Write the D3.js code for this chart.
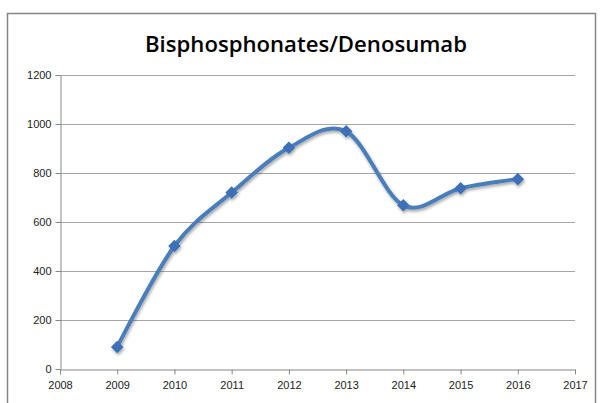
<!DOCTYPE html>
<html>
<head>
<meta charset="utf-8">
<script src="https://cdn.jsdelivr.net/npm/d3@7"></script>
<style>
  html, body { margin: 0; padding: 0; background: #fff; }
  svg text { font-family: "Liberation Sans", Arial, sans-serif; }
</style>
</head>
<body>
<svg id="chart" width="602" height="403"></svg>
<script>
const years = [2009, 2010, 2011, 2012, 2013, 2014, 2015, 2016];
const counts = [90, 502, 720, 903, 970, 668, 738, 775];
const xTicks = [2008, 2009, 2010, 2011, 2012, 2013, 2014, 2015, 2016, 2017];
const yTicks = [0, 200, 400, 600, 800, 1000, 1200];
const title = "Bisphosphonates/Denosumab";

const svg = d3.select("#chart"),
    margin = { top: 75, right: 27, bottom: 34, left: 60 },
    width = svg.attr("width") - margin.left - margin.right,
    height = svg.attr("height") - margin.top - margin.bottom;

// outer chart frame
svg.append("rect")
    .attr("x", 7.5)
    .attr("y", 13.5)
    .attr("width", 588)
    .attr("height", 400)
    .attr("fill", "#fff")
    .attr("stroke", "#868686")
    .attr("stroke-width", 1.5);

const defs = svg.append("defs");
const shadow = defs.append("filter").attr("id", "shadow")
    .attr("x", "-20%").attr("y", "-20%").attr("width", "140%").attr("height", "140%");
shadow.append("feDropShadow")
    .attr("dx", 1).attr("dy", 2).attr("stdDeviation", 1.5)
    .attr("flood-color", "#000").attr("flood-opacity", 0.35);

svg.append("text")
    .attr("x", 306)
    .attr("y", 52)
    .attr("text-anchor", "middle")
    .style("font-size", "21px")
    .style("font-weight", "600")
    .style("font-family", "'Open Sans', sans-serif")
    .attr("textLength", 322)
    .attr("lengthAdjust", "spacingAndGlyphs")
    .attr("fill", "#000")
    .text(title);

const g = svg.append("g")
    .attr("transform", "translate(" + margin.left + "," + margin.top + ")");

const x = d3.scaleLinear().domain([2008, 2017]).range([0, width]),
    y = d3.scaleLinear().domain([0, 1200]).range([height, 0]);

// gridlines
g.append("g")
    .selectAll("line")
    .data(yTicks.filter(d => d > 0))
    .enter()
    .append("line")
    .attr("x1", 0)
    .attr("x2", width)
    .attr("y1", d => Math.round(y(d)) + 0.5)
    .attr("y2", d => Math.round(y(d)) + 0.5)
    .attr("stroke", "#a6a6a6")
    .attr("stroke-width", 1);

const xAxis = g.append("g")
    .attr("transform", `translate(0, ${Math.round(height) + 0.5})`)
    .call(d3.axisBottom(x).tickValues(xTicks).tickFormat(d3.format("d")).tickSize(5).tickSizeOuter(0));
const yAxis = g.append("g")
    .attr("transform", "translate(0.5, 0)")
    .call(d3.axisLeft(y).tickValues(yTicks).tickFormat(d3.format("d")).tickSize(5).tickSizeOuter(0));

[xAxis, yAxis].forEach(a => {
    a.select(".domain").attr("stroke", "#868686");
    a.selectAll(".tick line").attr("stroke", "#868686");
    a.selectAll(".tick text")
        .attr("fill", "#222")
        .style("font-size", "11px")
        .style("font-family", "'Liberation Sans', Arial, sans-serif");
});
xAxis.selectAll(".tick text").attr("dy", "1.0em");
yAxis.selectAll(".tick text").attr("x", -9);

const points = years.map((d, i) => ({ x: d, y: counts[i] }));

const line = d3.line()
    .x(d => x(d.x))
    .y(d => y(d.y))
    .curve(d3.curveCardinal.tension(0));

const series = g.append("g").attr("filter", "url(#shadow)");

series.append("path")
    .datum(points)
    .attr("d", line)
    .attr("fill", "none")
    .attr("stroke", "#4a7ebb")
    .attr("stroke-width", 4)
    .attr("stroke-linecap", "round");

series.selectAll(".marker")
    .data(points)
    .enter()
    .append("path")
    .attr("class", "marker")
    .attr("d", d3.symbol().type(d3.symbolDiamond2).size(100))
    .attr("transform", d => `translate(${x(d.x)}, ${y(d.y)})`)
    .attr("fill", "#3d6fb6");
</script>
</body>
</html>
